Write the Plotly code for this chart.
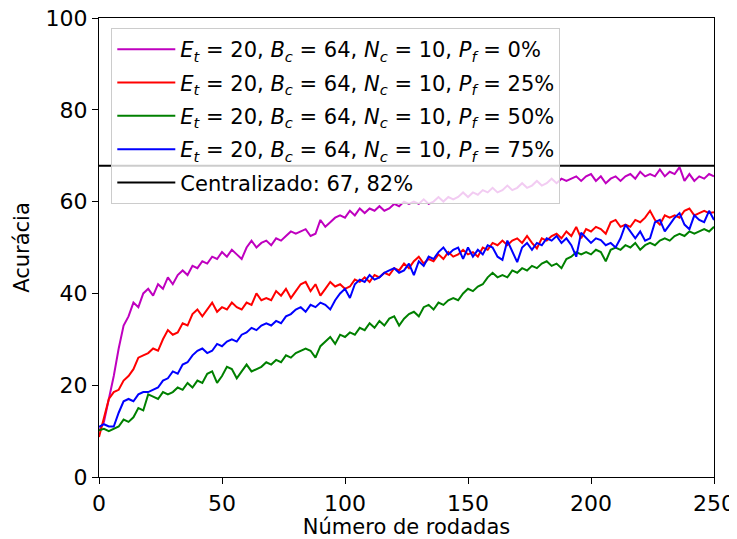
import plotly.graph_objects as go

rounds = list(range(0, 251, 2))

acc_pf0 = [
    10, 12, 17, 22, 28, 33, 35, 38, 37, 40,
    41, 39.5, 42, 41, 43.5, 42, 44, 45, 44, 46,
    45.5, 47, 46.5, 48, 47.5, 49, 48, 49.5, 48.5, 47.5,
    50, 51.5, 50, 51, 51.5, 50.5, 52, 51.5, 52.5, 53.5,
    53, 53.5, 54, 52.5, 53, 56, 54.5, 55.5, 56.5, 57,
    56.5, 58, 57, 58.5, 57.5, 58.5, 58, 59, 58, 58.5,
    59.5, 59, 60, 59.5, 60, 59.5, 60.5, 59.5, 60, 61,
    60, 61, 60.5, 61, 62, 61, 62, 61.5, 62.5, 62,
    63, 62, 62.5, 63.5, 62.5, 63, 64, 63, 63.5, 64.5,
    63.5, 64, 65, 64, 65, 64.5, 65, 65.5, 64.5, 65.5,
    66, 64.5, 65.5, 64, 65, 65.5, 64.5, 65.5, 66, 65,
    66.5, 65.5, 66, 65.5, 67, 65.5, 66.5, 66, 67.5, 64.5,
    66, 64.5, 65.5, 65, 66, 65.5,
]

acc_pf25 = [
    8.7, 13, 17, 18.5, 19, 21, 22, 23.5, 26, 26.5,
    27, 28, 27.5, 30, 32, 31, 31.5, 33.5, 33, 35.5,
    36.5, 35, 36.5, 38, 36, 37, 36.5, 38, 37, 36.5,
    38, 37.5, 40, 38.5, 39, 38.5, 40.5, 39.5, 41, 39,
    40.5, 42, 42.5, 40.5, 42, 39.5, 41, 42.5, 41.5, 42,
    41, 41.5, 43, 42.5, 43.5, 42.5, 44, 43.5, 44.5, 44,
    45.5, 45, 46.5, 45.5, 47, 48, 46.5, 47.5, 47, 48.5,
    47.5, 49, 48, 48.5, 49.5, 48.5, 49, 48, 50, 49.5,
    51, 50.5, 51.5, 50.5, 51.5, 52, 51, 52.5, 51, 49.8,
    52, 51.5, 52.5, 53, 52, 53.5, 52.5, 54.5, 52, 54,
    53.5, 54.5, 54, 53, 55.5, 56, 54.5, 55, 54.5, 56,
    55.5, 56.5, 58, 56, 55, 57, 56.5, 57, 56.5, 58,
    58.5, 57, 57.5, 58, 57.5, 57.7,
]

acc_pf50 = [
    10.2, 10.5, 10, 10.5, 11, 12.5, 12, 13, 15, 14.5,
    18, 17.5, 17, 18.5, 18, 18.5, 19.5, 19, 20.5, 19.5,
    21, 20.5, 22.5, 23, 20.5, 22, 24, 23.5, 21.5, 23,
    24.5, 23, 23.5, 24, 25, 24.5, 25.5, 25, 26.5, 26,
    27, 27.5, 28, 27.5, 26, 28.5, 29.5, 30.5, 29, 31,
    30.5, 31.5, 31, 32.5, 32, 33.5, 32.5, 34, 33, 34.5,
    35, 33, 34.5, 35.5, 36, 35, 37, 37.5, 36.5, 38,
    37.5, 38.5, 39, 38.5, 40, 41, 40.5, 41.5, 42, 43.5,
    44.5, 43.5, 44, 43.5, 45, 44.5, 45.5, 45, 46, 45.5,
    46.5, 47, 46, 46.5, 45.5, 47.5, 48, 49, 48.5, 49,
    48.5, 49.5, 49, 47, 49.5, 50, 49.5, 50.5, 50, 51,
    49.5, 50.5, 51, 50.5, 51.5, 52, 51.5, 52.5, 53, 52.5,
    53.5, 53, 53.5, 54, 53.5, 54.5,
]

acc_pf75 = [
    10.9, 11.5, 11, 11, 14, 16.5, 17, 16.5, 18, 18.5,
    18.5, 19, 19.5, 21, 21.5, 23, 22.5, 24.5, 25, 26.5,
    27.5, 28, 27, 27.5, 29, 28.5, 29.5, 30, 29.5, 31,
    31.5, 32.5, 32, 33, 33.5, 33, 34, 33.5, 35, 35.5,
    36.5, 37, 36, 37.5, 37, 38, 37.5, 36.5, 38.5, 40,
    41, 39, 42, 43, 42.5, 44, 43, 43.5, 44.5, 45,
    45.5, 44.5, 45, 46.5, 44, 47, 46, 48, 47.5, 49,
    50, 48.5, 49.5, 50, 47.5, 50, 48, 49.5, 48.5, 50.5,
    50, 48, 47.3, 51.5, 49, 46.8, 50, 51, 49.5, 51,
    50.5, 52, 51.5, 52.5, 51, 52, 50.5, 48, 53.2, 52,
    51, 52, 51.6, 50.5, 51, 50, 52, 55, 53.5, 52,
    53.5, 51.5, 52, 55.5, 56, 53.5, 55, 56.5, 57.5, 55,
    54, 57, 56, 55.5, 58, 56,
]

centralized = 67.82

series_labels = [
    "<i>E<sub>t</sub></i> = 20, <i>B<sub>c</sub></i> = 64, <i>N<sub>c</sub></i> = 10, <i>P<sub>f</sub></i> = 0%",
    "<i>E<sub>t</sub></i> = 20, <i>B<sub>c</sub></i> = 64, <i>N<sub>c</sub></i> = 10, <i>P<sub>f</sub></i> = 25%",
    "<i>E<sub>t</sub></i> = 20, <i>B<sub>c</sub></i> = 64, <i>N<sub>c</sub></i> = 10, <i>P<sub>f</sub></i> = 50%",
    "<i>E<sub>t</sub></i> = 20, <i>B<sub>c</sub></i> = 64, <i>N<sub>c</sub></i> = 10, <i>P<sub>f</sub></i> = 75%",
]
central_label = "Centralizado: 67, 82%"
colors = ["#bf00bf", "#ff0000", "#008000", "#0000ff"]

FONT = "DejaVu Sans"

fig = go.Figure()
for i, (vals, lab, col) in enumerate(zip([acc_pf0, acc_pf25, acc_pf50, acc_pf75], series_labels, colors)):
    fig.add_trace(go.Scatter(x=rounds, y=vals, mode="lines", name=lab,
                             legendgroup=f"g{i}",
                             line=dict(color=col, width=2)))
fig.add_trace(go.Scatter(x=[rounds[0], rounds[-1]], y=[centralized, centralized],
                         mode="lines", name=central_label, legendgroup="g_central",
                         line=dict(color="black", width=2)))

axis_common = dict(
    showline=True, linecolor="black", linewidth=1.2, mirror=True,
    ticks="outside", ticklen=6, tickwidth=1.2, tickcolor="black",
    showgrid=False, zeroline=False, automargin=False,
    ticklabeloverflow="allow",
    tickfont=dict(family=FONT, size=22, color="black"),
)

# page body has an 8px margin; the figure is sized/offset to compensate
fig.update_layout(
    width=729, height=531,
    margin=dict(l=91, r=23, t=10, b=62, autoexpand=False),
    paper_bgcolor="white", plot_bgcolor="white",
    font=dict(family=FONT, size=21, color="black"),
    xaxis=dict(range=[0, 250], tickvals=[0, 50, 100, 150, 200, 250],
               title=dict(text="Número de rodadas", font=dict(family=FONT, size=21), standoff=8),
               **axis_common),
    yaxis=dict(range=[0, 100], tickvals=[0, 20, 40, 60, 80, 100],
               title=dict(text="Acurácia", font=dict(family=FONT, size=21), standoff=10),
               **axis_common),
    legend=dict(x=0.02, y=0.978, xanchor="left", yanchor="top",
                bgcolor="rgba(255,255,255,0.8)", bordercolor="#cccccc", borderwidth=1,
                font=dict(family=FONT, size=21, color="black"),
                itemwidth=58, tracegroupgap=3),
    showlegend=True,
)

fig.write_html("out.html")
